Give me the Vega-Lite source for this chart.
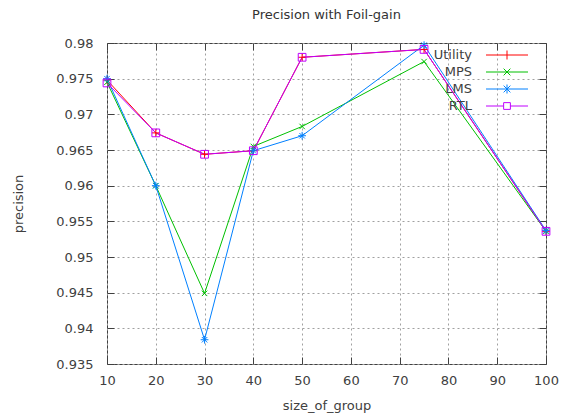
{
  "$schema": "https://vega.github.io/schema/vega-lite/v6.json",
  "width": 439,
  "height": 321,
  "autosize": {"type": "none"},
  "padding": {"left": 107, "top": 43, "right": 18, "bottom": 50},
  "background": "white",
  "title": {"text": "Precision with Foil-gain", "font": "DejaVu Sans", "fontSize": 13, "fontWeight": "normal", "color": "#333333", "offset": 15, "anchor": "middle"},
  "config": {
    "view": {"stroke": "#404040", "strokeWidth": 1},
    "font": "DejaVu Sans",
    "axis": {"labelFont": "DejaVu Sans", "titleFont": "DejaVu Sans", "labelFontSize": 13, "titleFontSize": 13, "labelColor": "#404040", "titleColor": "#404040", "titleFontWeight": "normal", "grid": true, "gridColor": "#a0a0a0", "gridDash": [2, 3], "gridWidth": 1, "domain": false, "tickColor": "#404040", "tickSize": -7, "labelFlush": false}
  },
  "data": {"values": [
    {"size": 10, "method": "Utility", "precision": 0.9748},
    {"size": 20, "method": "Utility", "precision": 0.9674},
    {"size": 30, "method": "Utility", "precision": 0.9644},
    {"size": 40, "method": "Utility", "precision": 0.9649},
    {"size": 50, "method": "Utility", "precision": 0.978},
    {"size": 75, "method": "Utility", "precision": 0.9791},
    {"size": 100, "method": "Utility", "precision": 0.9536},
    {"size": 10, "method": "MPS", "precision": 0.9745},
    {"size": 20, "method": "MPS", "precision": 0.96},
    {"size": 30, "method": "MPS", "precision": 0.9449},
    {"size": 40, "method": "MPS", "precision": 0.9655},
    {"size": 50, "method": "MPS", "precision": 0.9683},
    {"size": 75, "method": "MPS", "precision": 0.9774},
    {"size": 100, "method": "MPS", "precision": 0.9536},
    {"size": 10, "method": "LMS", "precision": 0.975},
    {"size": 20, "method": "LMS", "precision": 0.96},
    {"size": 30, "method": "LMS", "precision": 0.9384},
    {"size": 40, "method": "LMS", "precision": 0.9649},
    {"size": 50, "method": "LMS", "precision": 0.967},
    {"size": 75, "method": "LMS", "precision": 0.9797},
    {"size": 100, "method": "LMS", "precision": 0.9537},
    {"size": 10, "method": "RTL", "precision": 0.9744},
    {"size": 20, "method": "RTL", "precision": 0.9674},
    {"size": 30, "method": "RTL", "precision": 0.9644},
    {"size": 40, "method": "RTL", "precision": 0.9649},
    {"size": 50, "method": "RTL", "precision": 0.978},
    {"size": 75, "method": "RTL", "precision": 0.9791},
    {"size": 100, "method": "RTL", "precision": 0.9536}
  ]},
  "resolve": {"axis": {"x": "independent", "y": "independent"}},
  "layer": [
    {
      "mark": {"type": "line", "strokeWidth": 1, "clip": false},
      "encoding": {
        "x": {"field": "size", "type": "quantitative", "scale": {"domain": [10, 100], "nice": false, "zero": false}, "axis": {"values": [10, 20, 30, 40, 50, 60, 70, 80, 90, 100], "format": "d", "title": "size_of_group", "labelPadding": 17, "titleY": 41, "titleBaseline": "middle"}},
        "y": {"field": "precision", "type": "quantitative", "scale": {"domain": [0.935, 0.98], "nice": false, "zero": false}, "axis": {"values": [0.935, 0.94, 0.945, 0.95, 0.955, 0.96, 0.965, 0.97, 0.975, 0.98], "format": ".3~f", "title": "precision", "labelPadding": 21, "titleX": -82}},
        "color": {"field": "method", "type": "nominal", "scale": {"domain": ["Utility", "MPS", "LMS", "RTL"], "range": ["#ff0000", "#00c000", "#0080ff", "#c000ff"]}, "legend": {"title": null, "orient": "none", "legendX": 392, "legendY": 4, "symbolType": "M-2.8,0L2.8,0", "symbolSize": 225, "symbolStrokeWidth": 1, "symbolFillColor": "transparent", "labelAlign": "right", "labelOffset": -43, "labelFont": "DejaVu Sans", "labelFontSize": 13, "labelColor": "#404040", "rowPadding": 2,
          "encode": {"symbols": {"update": {"shape": {"signal": "datum.value === 'Utility' ? 'M-2.8,0L2.8,0M0,-0.6L0,0.6' : datum.value === 'MPS' ? 'M-2.8,0L2.8,0M-0.45,-0.45L0.45,0.45M-0.45,0.45L0.45,-0.45' : datum.value === 'LMS' ? 'M-2.8,0L2.8,0M0,-0.6L0,0.6M-0.45,-0.45L0.45,0.45M-0.45,0.45L0.45,-0.45' : 'M-2.8,0L-0.45,0M0.45,0L2.8,0M-0.45,-0.45L0.45,-0.45L0.45,0.45L-0.45,0.45Z'"}, "fill": {"value": "transparent"}}}}}},
        "order": {"field": "size", "type": "quantitative"}
      }
    },
    {
      "mark": {"type": "point", "filled": false, "strokeWidth": 1, "size": 60, "opacity": 1, "clip": false},
      "encoding": {
        "x": {"field": "size", "type": "quantitative", "axis": {"orient": "top", "labels": false, "title": null, "grid": false, "values": [10, 20, 30, 40, 50, 60, 70, 80, 90, 100]}},
        "y": {"field": "precision", "type": "quantitative", "axis": {"orient": "right", "labels": false, "title": null, "grid": false, "values": [0.935, 0.94, 0.945, 0.95, 0.955, 0.96, 0.965, 0.97, 0.975, 0.98]}},
        "stroke": {"field": "method", "type": "nominal", "scale": {"domain": ["Utility", "MPS", "LMS", "RTL"], "range": ["#ff0000", "#00c000", "#0080ff", "#c000ff"]}, "legend": null},
        "shape": {"condition": [
          {"test": "datum.method === 'Utility'", "value": "M-1,0L1,0M0,-1L0,1"},
          {"test": "datum.method === 'MPS'", "value": "M-0.7,-0.7L0.7,0.7M-0.7,0.7L0.7,-0.7"},
          {"test": "datum.method === 'LMS'", "value": "M-1,0L1,0M0,-1L0,1M-0.7,-0.7L0.7,0.7M-0.7,0.7L0.7,-0.7"}
        ], "value": "square"}
      }
    }
  ]
}
